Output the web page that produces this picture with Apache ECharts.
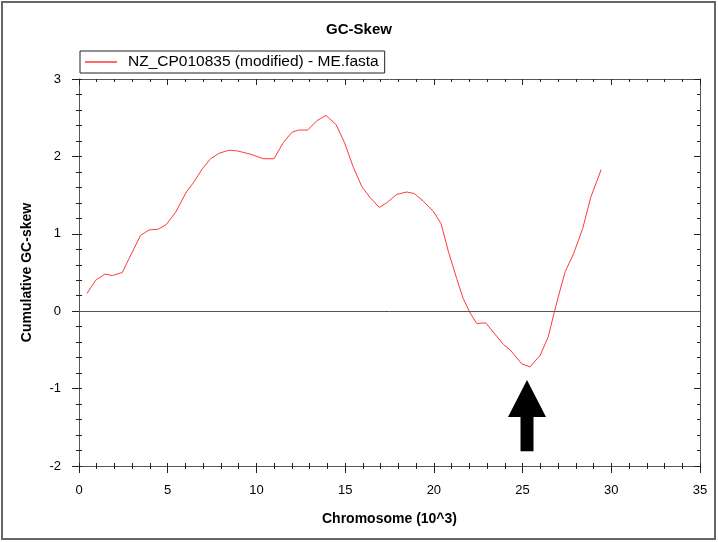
<!DOCTYPE html>
<html>
<head>
<meta charset="utf-8">
<script src="https://cdn.jsdelivr.net/npm/echarts@6/dist/echarts.min.js"></script>
<style>html,body{margin:0;padding:0;background:#fff}#c{width:718px;height:542px}</style>
</head>
<body>
<div id="c"></div>
<script>
const chartTitle = 'GC-Skew';
const seriesName = 'NZ_CP010835 (modified) - ME.fasta';
const xAxisTitle = 'Chromosome (10^3)';
const yAxisTitle = 'Cumulative GC-skew';
// chromosome position (10^3)
const positions = [0.45,0.94,1.47,1.88,2.44,2.95,3.47,3.95,4.47,4.92,5.45,6.05,6.48,6.95,7.42,7.89,8.46,8.94,9.64,10.39,10.99,11.52,11.99,12.36,12.89,13.40,13.92,14.49,14.96,15.46,15.94,16.40,16.93,17.34,17.91,18.47,18.90,19.41,19.97,20.41,20.82,21.29,21.66,22.04,22.42,22.92,23.35,23.92,24.30,24.95,25.42,25.99,26.45,26.78,27.11,27.40,27.87,28.39,28.84,29.43];
// cumulative GC-skew
const skew = [0.23,0.40,0.48,0.46,0.50,0.74,0.98,1.05,1.06,1.12,1.28,1.54,1.67,1.84,1.97,2.04,2.08,2.07,2.03,1.97,1.97,2.18,2.31,2.34,2.34,2.46,2.53,2.41,2.18,1.86,1.61,1.47,1.34,1.40,1.51,1.54,1.52,1.42,1.29,1.13,0.77,0.42,0.16,-0.02,-0.16,-0.15,-0.27,-0.43,-0.50,-0.68,-0.72,-0.57,-0.33,-0.02,0.27,0.51,0.74,1.07,1.47,1.83];
const xTicks = [0, 35, 5];   // min, max, interval
const yTicks = [-2, 3, 1];
// arrow annotation: x position, tip value, tail value
const arrowX = [25.25];
const arrowTip = [-0.89];
const arrowTail = [-1.81];

const font = 'Arial, "Liberation Sans", sans-serif';
const lineData = positions.map((p, i) => [p, skew[i]]);

const chart = echarts.init(document.getElementById('c'));
const gridRect = {left: 79, top: 79, width: 621, height: 387};
const xBase = {type: 'value', min: xTicks[0], max: xTicks[1], interval: xTicks[2], splitLine: {show: false}};
const yBase = {type: 'value', min: yTicks[0], max: yTicks[1], interval: yTicks[2], splitLine: {show: false}};
const axLine = {show: true, onZero: false, lineStyle: {color: '#555', width: 1}};
const tickStyle = {color: '#222'};

chart.setOption({
  animation: false,
  backgroundColor: '#fff',
  title: {text: chartTitle, left: 'center', top: 17, textStyle: {fontFamily: font, fontSize: 15, fontWeight: 'bold', color: '#000'}},
  legend: {
    data: [{name: seriesName, icon: 'rect'}], left: 80, top: 51, orient: 'horizontal',
    borderColor: '#222', borderWidth: 1, padding: [3, 6, 3, 5], borderRadius: 0,
    itemWidth: 32, itemHeight: 1.5, itemGap: 0,
    textStyle: {fontFamily: font, fontSize: 15.5, color: '#000', padding: [0, 0, 0, 6]}
  },
  graphic: [{type: 'rect', shape: {x: 2, y: 2, width: 713, height: 537}, style: {fill: 'none', stroke: '#666', lineWidth: 2}, silent: true}],
  grid: [Object.assign({}, gridRect), Object.assign({}, gridRect)],
  xAxis: [
    Object.assign({}, xBase, {gridIndex: 0, position: 'bottom', axisLine: axLine,
      axisTick: {show: true, inside: false, length: 7, lineStyle: tickStyle},
      minorTick: {show: true, splitNumber: 5, length: 3, lineStyle: tickStyle},
      axisLabel: {fontFamily: font, fontSize: 13, color: '#000', margin: 18},
      name: xAxisTitle, nameLocation: 'middle', nameGap: 46,
      nameTextStyle: {fontFamily: font, fontSize: 14, fontWeight: 'bold', color: '#000'}}),
    Object.assign({}, xBase, {gridIndex: 0, position: 'top', axisLine: axLine,
      axisTick: {show: true, inside: true, length: 6, lineStyle: tickStyle},
      minorTick: {show: true, splitNumber: 5, length: 3, lineStyle: tickStyle},
      axisLabel: {show: false}}),
    Object.assign({}, xBase, {gridIndex: 1, position: 'bottom', axisLine: {show: false, onZero: false},
      axisTick: {show: true, inside: true, length: 3, lineStyle: tickStyle},
      minorTick: {show: true, splitNumber: 5, length: 3, lineStyle: tickStyle},
      axisLabel: {show: false}})
  ],
  yAxis: [
    Object.assign({}, yBase, {gridIndex: 0, position: 'left', axisLine: axLine,
      axisTick: {show: true, inside: false, length: 7, lineStyle: tickStyle},
      minorTick: {show: true, splitNumber: 5, length: 3, lineStyle: tickStyle},
      axisLabel: {fontFamily: font, fontSize: 13, color: '#000', margin: 18},
      name: yAxisTitle, nameLocation: 'middle', nameGap: 45, nameRotate: 90,
      nameTextStyle: {fontFamily: font, fontSize: 14, fontWeight: 'bold', color: '#000'}}),
    Object.assign({}, yBase, {gridIndex: 0, position: 'right', axisLine: axLine,
      axisTick: {show: true, inside: true, length: 6, lineStyle: tickStyle},
      minorTick: {show: true, splitNumber: 5, length: 3, lineStyle: tickStyle},
      axisLabel: {show: false}}),
    Object.assign({}, yBase, {gridIndex: 1, position: 'left', axisLine: {show: false, onZero: false},
      axisTick: {show: true, inside: true, length: 3, lineStyle: tickStyle},
      minorTick: {show: true, splitNumber: 5, length: 3, lineStyle: tickStyle},
      axisLabel: {show: false}})
  ],
  series: [
    {
      name: seriesName, type: 'line', xAxisIndex: 0, yAxisIndex: 0,
      data: lineData, symbol: 'none', showSymbol: false, smooth: false,
      lineStyle: {color: '#ff3a3a', width: 1}, itemStyle: {color: '#ff3a3a'},
      markLine: {silent: true, symbol: 'none', label: {show: false},
        lineStyle: {color: '#555', width: 1, type: 'solid'}, data: [{yAxis: 0}]},
      z: 3
    },
    {
      type: 'custom', xAxisIndex: 0, yAxisIndex: 0, silent: true,
      data: arrowX.map((x, i) => [x, arrowTip[i], arrowTail[i]]),
      renderItem: function (params, api) {
        const tip = api.coord([api.value(0), api.value(1)]);
        const tail = api.coord([api.value(0), api.value(2)]);
        const hw = 19, hh = 37, sw = 6.5;
        const x = tip[0], y = tip[1], yb = tail[1];
        return {
          type: 'polygon',
          shape: {points: [[x, y], [x + hw, y + hh], [x + sw, y + hh], [x + sw, yb], [x - sw, yb], [x - sw, y + hh], [x - hw, y + hh]]},
          style: {fill: '#000'}
        };
      },
      z: 4
    }
  ]
});
</script>
</body>
</html>
